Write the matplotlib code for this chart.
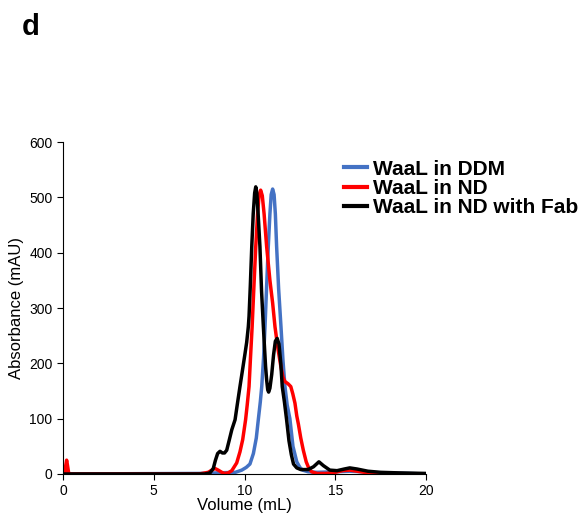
import matplotlib
matplotlib.use('Agg')
import matplotlib.pyplot as plt

plt.rcParams['font.family'] = ['Liberation Sans', 'DejaVu Sans']

# WaaL in DDM
ddm_x = [0, 7.5, 8.5, 9.5, 9.85, 10.1, 10.3, 10.49, 10.65, 10.76, 10.87, 10.95, 11.05, 11.13,
         11.22, 11.31, 11.4, 11.47, 11.55, 11.63, 11.7, 11.77, 11.88, 12.01, 12.12, 12.23,
         12.35, 12.5, 12.67, 12.88, 13.05, 13.2, 13.5, 14.0, 15.0, 15.8, 16.5, 17.5, 19.0, 20]
ddm_y = [0, 1, 2, 3, 7, 12, 18, 37, 65, 98, 130, 158, 210, 266,
         340, 411, 470, 505, 515, 505, 470, 411, 335, 266, 205, 158,
         125, 100, 50, 22, 12, 7, 4, 3, 4, 5, 4, 2, 1, 0]

# WaaL in ND
nd_x = [0, 0.1, 0.15, 0.2, 0.25, 0.32, 7.5, 8.0, 8.2, 8.37, 8.55, 8.75, 8.9, 9.1, 9.3, 9.57,
        9.75, 9.9, 10.06, 10.15, 10.25, 10.33, 10.42, 10.52, 10.62, 10.72, 10.8, 10.89, 10.98,
        11.08, 11.22, 11.4, 11.55, 11.68, 11.85, 12.0, 12.12, 12.23, 12.4, 12.55, 12.66, 12.78,
        12.88, 12.97, 13.1, 13.24, 13.4, 13.55, 13.7, 14.0, 14.5, 15.0, 15.4, 15.8, 16.2, 16.8,
        17.5, 20]
nd_y = [0, 0, 15, 25, 15, 0, 0, 3, 7, 10, 7, 3, 1, 2, 6, 20,
        40, 62, 98, 125, 158, 210, 266, 340, 411, 470, 503, 513, 503,
        470, 411, 350, 309, 266, 225, 195, 175, 167, 163, 158, 145, 128,
        105, 90, 65, 43, 22, 10, 4, 1, 1, 3, 6, 7, 5, 2,
        1, 0]

# WaaL in ND with Fab
fab_x = [0, 7.8, 8.1, 8.28, 8.4, 8.52, 8.65, 8.78, 8.9, 9.02, 9.15, 9.3, 9.48, 9.6, 9.75, 9.9,
         10.03, 10.12, 10.21, 10.25, 10.32, 10.4, 10.48, 10.56, 10.62, 10.68, 10.76, 10.85,
         10.94, 11.04, 11.1, 11.16, 11.22, 11.28, 11.33, 11.4, 11.5, 11.6, 11.7, 11.8, 11.9,
         12.0, 12.08, 12.2, 12.32, 12.45, 12.58, 12.7, 12.88, 13.1, 13.5, 13.8, 14.1, 14.35,
         14.7, 15.1, 15.5, 15.8, 16.2, 16.8, 17.5, 18.5, 20]
fab_y = [0, 0, 2, 10, 25, 37, 41, 38, 38, 43, 60, 80, 98, 125, 158, 190,
         218, 238, 266, 285, 340, 411, 470, 508, 519, 508, 465, 411,
         330, 266, 230, 195, 170, 152, 148, 155, 180, 215, 240, 245, 235,
         200, 158, 130, 98, 60, 35, 18, 11, 8, 8, 13, 22, 15,
         7, 6, 9, 11, 9, 5, 3, 2, 1]

fig = plt.figure(figsize=(5.85, 5.17), dpi=100)
ax = fig.add_axes([0.1077, 0.0832, 0.6205, 0.6421])

ax.plot(ddm_x, ddm_y, color='#4472C4', lw=2.5, label='WaaL in DDM')
ax.plot(nd_x, nd_y, color='#FF0000', lw=2.5, label='WaaL in ND')
ax.plot(fab_x, fab_y, color='black', lw=2.5, label='WaaL in ND with Fab')

ax.set_xlim(0, 20)
ax.set_ylim(0, 600)
ax.set_xticks([0, 5, 10, 15, 20])
ax.set_yticks(range(0, 601, 100))
ax.spines['top'].set_visible(False)
ax.spines['right'].set_visible(False)
ax.tick_params(direction='out', length=4, labelsize=10)
ax.set_xlabel('Volume (mL)', fontsize=12, labelpad=0)
ax.set_ylabel('Absorbance (mAU)', fontsize=12, labelpad=4)

leg = ax.legend(loc='upper left', bbox_to_anchor=(0.752, 0.972), frameon=False,
                prop={'weight': 'bold', 'size': 15}, handlelength=1.1,
                handletextpad=0.3, labelspacing=0.02, borderaxespad=0)
for line in leg.get_lines():
    line.set_linewidth(3)

fig.text(0.038, 0.932, 'd', fontsize=21, fontweight='bold')

fig.savefig('out.png', dpi=100)
